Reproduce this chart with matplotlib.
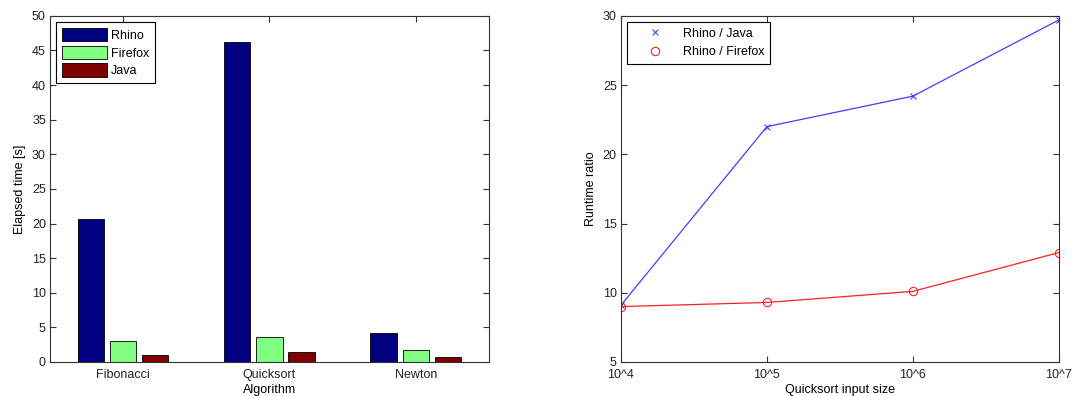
import numpy as np
import matplotlib
matplotlib.use('Agg')
import matplotlib.pyplot as plt

plt.rcParams['font.family'] = ['Liberation Sans', 'DejaVu Sans']
plt.rcParams['font.size'] = 9

# bar chart data
algorithms = ['Fibonacci', 'Quicksort', 'Newton']
rhino = [20.7, 46.2, 4.2]
firefox = [3.1, 3.6, 1.7]
java = [1.0, 1.5, 0.7]

# ratio data
sizes = [1e4, 1e5, 1e6, 1e7]
size_labels = ['10^4', '10^5', '10^6', '10^7']
rhino_java = [9.1, 22.0, 24.2, 29.7]
rhino_firefox = [9.0, 9.3, 10.1, 12.9]

fig = plt.figure(figsize=(10.73, 3.96), dpi=100)
ax1 = fig.add_axes([0.0466, 0.0859, 0.409, 0.874])
ax2 = fig.add_axes([0.5787, 0.0859, 0.408, 0.874])

edge = '#333333'
x = np.arange(1, len(algorithms) + 1)
w = 0.18
d = 0.22
ax1.set_axisbelow(True)
ax1.bar(x - d, rhino, w, color='#000080', edgecolor='black', linewidth=0.6, label='Rhino')
ax1.bar(x, firefox, w, color='#80ff80', edgecolor='black', linewidth=0.6, label='Firefox')
ax1.bar(x + d, java, w, color='#800000', edgecolor='black', linewidth=0.6, label='Java')
ax1.set_xlim(0.5, 3.5)
ax1.set_ylim(0, 50)
ax1.set_yticks(np.arange(0, 51, 5))
ax1.set_xticks(x)
ax1.set_xticklabels(algorithms)
ax1.set_xlabel('Algorithm', labelpad=2)
ax1.set_ylabel('Elapsed time [s]', labelpad=4)
leg1 = ax1.legend(loc='upper left', fancybox=False, edgecolor='black', framealpha=1,
                  handlelength=3.6, handleheight=1.3, handletextpad=0.3,
                  labelspacing=0.3, borderaxespad=0.5, borderpad=0.45)
leg1.get_frame().set_linewidth(0.8)

ax2.plot(sizes, rhino_java, color='#4040ff', linewidth=0.9, marker='x',
         markersize=4, markeredgewidth=0.8, label='Rhino / Java')
ax2.plot(sizes, rhino_firefox, color='#ff2020', linewidth=0.9, marker='o',
         markersize=6, markerfacecolor='none', markeredgewidth=0.8,
         label='Rhino / Firefox')
ax2.set_xscale('log')
ax2.set_xlim(1e4, 1e7)
ax2.set_ylim(5, 30)
ax2.set_xticks(sizes)
ax2.set_xticklabels(size_labels)
ax2.minorticks_off()
ax2.set_xlabel('Quicksort input size', labelpad=2)
ax2.set_ylabel('Runtime ratio', labelpad=4)
leg2 = ax2.legend(loc='upper left', fancybox=False, edgecolor='black', framealpha=1,
                  handlelength=3.6, handletextpad=0.4, labelspacing=0.5,
                  borderaxespad=0.5, borderpad=0.45)
leg2.get_frame().set_linewidth(0.8)
# legend shows markers only
for h in leg2.get_lines():
    h.set_linestyle('none')

for ax in (ax1, ax2):
    for s in ax.spines.values():
        s.set_color(edge)
        s.set_linewidth(0.8)
    ax.tick_params(direction='in', top=True, right=True, length=4,
                   color=edge, labelcolor='#222222', pad=3)
    ax.tick_params(axis='x', pad=5)

fig.savefig('out.png', dpi=100)
